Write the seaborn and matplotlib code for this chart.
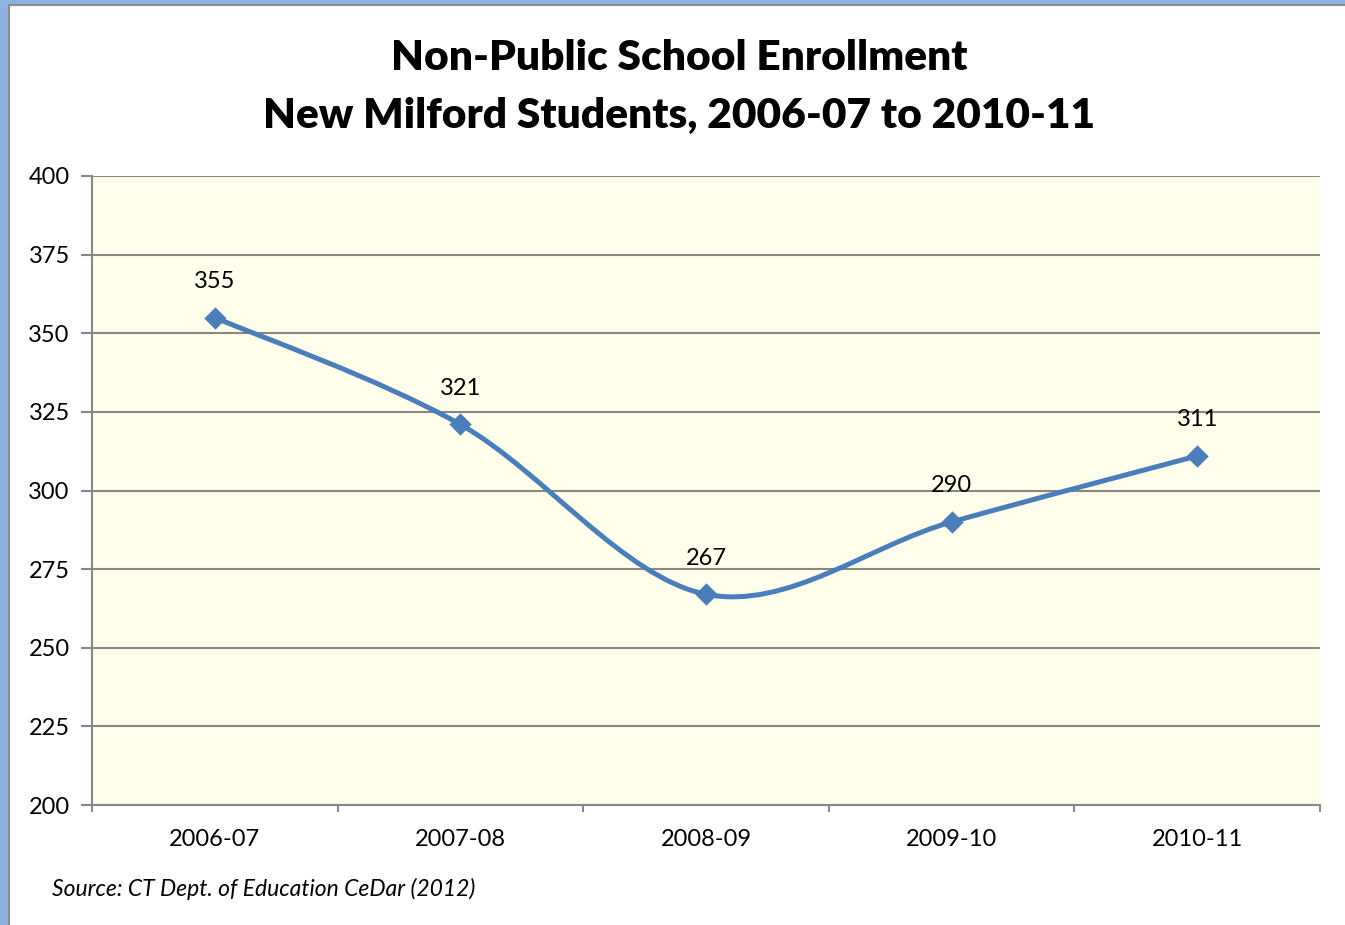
import numpy as np
import pandas as pd
import matplotlib
matplotlib.use("Agg")
import matplotlib.pyplot as plt
from matplotlib.path import Path
from matplotlib.patches import PathPatch, Rectangle
import seaborn as sns

# Enrollment data
years = ["2006-07", "2007-08", "2008-09", "2009-10", "2010-11"]
enrollment = [355, 321, 267, 290, 311]
y_ticks = [200, 225, 250, 275, 300, 325, 350, 375, 400]

title = "Non-Public School Enrollment\nNew Milford Students, 2006-07 to 2010-11"
source = "Source: CT Dept. of Education CeDar (2012)"

LINE = "#4A7EBB"
GRID = "#878787"
PLOT_BG = "#FFFFEB"

sns.set_theme(style="white")
plt.rcParams["font.family"] = ["Lato", "DejaVu Sans"]
plt.rcParams["text.color"] = "black"
plt.rcParams["xtick.color"] = "black"
plt.rcParams["ytick.color"] = "black"

W, H = 1345, 925
fig = plt.figure(figsize=(W / 100, H / 100), dpi=100)
fig.patch.set_facecolor("white")

# Outer frame: blue strips along the left and top, thin grey border inside
fig.patches.append(Rectangle((0, 0), 8 / W, 1, transform=fig.transFigure,
                             facecolor="#8DB3E2", edgecolor="none", zorder=0))
fig.patches.append(Rectangle((0, 1 - 4 / H), 1, 4 / H, transform=fig.transFigure,
                             facecolor="#8DB3E2", edgecolor="none", zorder=0))
fig.add_artist(plt.Line2D([9 / W, 9 / W], [0, 1 - 5 / H], transform=fig.transFigure,
                          color="#8C8C8C", lw=1.5))
fig.add_artist(plt.Line2D([9 / W, 1], [1 - 5 / H, 1 - 5 / H], transform=fig.transFigure,
                          color="#8C8C8C", lw=1.5))

left, right, top, bottom = 92, 1320, 176, 805
ax = fig.add_axes([left / W, 1 - bottom / H, (right - left) / W, (bottom - top) / H])
ax.set_facecolor(PLOT_BG)

x = np.arange(len(years), dtype=float)
y = np.asarray(enrollment, dtype=float)

# Smoothed line as cubic Bezier segments (Catmull-Rom style tangents)
px = np.concatenate([[x[0]], x, [x[-1]]])
py = np.concatenate([[y[0]], y, [y[-1]]])
verts = [(x[0], y[0])]
codes = [Path.MOVETO]
for i in range(1, len(px) - 2):
    c1 = (px[i] + (px[i + 1] - px[i - 1]) / 6, py[i] + (py[i + 1] - py[i - 1]) / 6)
    c2 = (px[i + 1] - (px[i + 2] - px[i]) / 6, py[i + 1] - (py[i + 2] - py[i]) / 6)
    verts += [c1, c2, (px[i + 1], py[i + 1])]
    codes += [Path.CURVE4] * 3
ax.add_patch(PathPatch(Path(verts, codes), facecolor="none", edgecolor=LINE,
                       lw=3.6, capstyle="round", joinstyle="round", zorder=3))

df = pd.DataFrame({"pos": x, "enrollment": y})
sns.scatterplot(data=df, x="pos", y="enrollment", marker="D", s=130, color=LINE,
                edgecolor=LINE, linewidth=0, ax=ax, zorder=4, legend=False)

for xi, yi in zip(x, enrollment):
    ax.annotate(f"{yi}", (xi, yi), xytext=(0, 26), textcoords="offset points",
                ha="center", va="center", fontsize=17, color="black", zorder=5)

ax.set_xlim(-0.5, len(years) - 0.5)
ax.set_ylim(200, 400)
ax.set_yticks(y_ticks)
ax.set_yticklabels([str(v) for v in y_ticks], fontsize=17)
ax.set_xticks(x)
ax.set_xticklabels(years, fontsize=17)
ax.set_xticks(np.arange(len(years) + 1) - 0.5, minor=True)
ax.tick_params(axis="x", which="both", bottom=True)
ax.tick_params(axis="y", which="both", left=True)
ax.tick_params(axis="x", which="major", length=0, pad=17)
ax.tick_params(axis="x", which="minor", length=5, width=1.5, color=GRID, direction="out")
ax.tick_params(axis="y", which="major", length=8, width=1.5, color=GRID, direction="out",
               labelcolor="black", pad=8)
ax.tick_params(axis="x", labelcolor="black")
ax.set_xlabel("")
ax.set_ylabel("")

ax.grid(axis="y", color=GRID, lw=1.5, zorder=1)
ax.set_axisbelow(True)
for side in ("top", "right"):
    ax.spines[side].set_visible(False)
for side in ("left", "bottom"):
    ax.spines[side].set_color(GRID)
    ax.spines[side].set_linewidth(1.5)

fig.text(679 / W, 1 - 87 / H, title, ha="center", va="center", fontsize=30.5,
         fontweight="heavy", linespacing=1.63, color="black")
fig.text(52 / W, 1 - 889 / H, source, ha="left", va="center", fontsize=16.5,
         style="italic", color="black")

fig.savefig("out.png", dpi=100)
